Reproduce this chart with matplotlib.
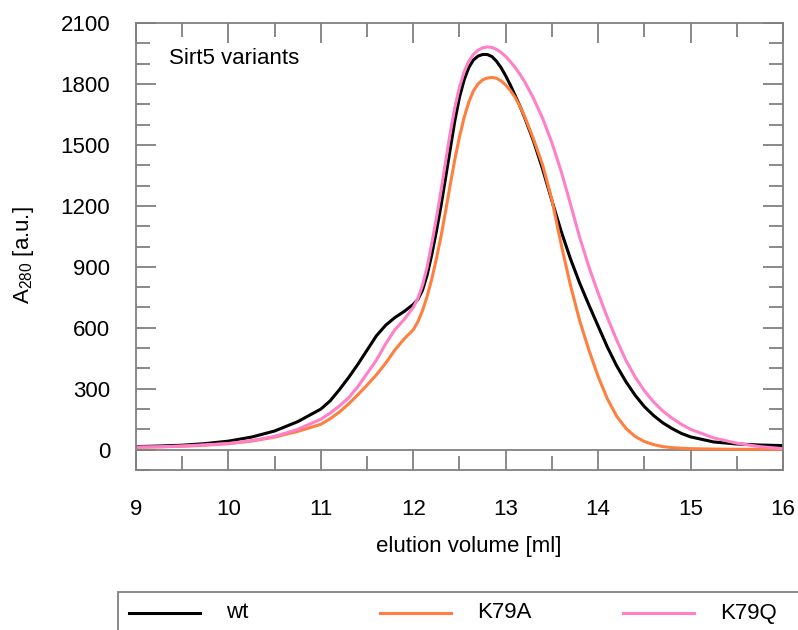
import matplotlib
matplotlib.use('Agg')
import matplotlib.pyplot as plt
from matplotlib.lines import Line2D
from matplotlib.patches import Rectangle
from matplotlib.ticker import MultipleLocator

plt.rcParams['font.family'] = ['Liberation Sans', 'DejaVu Sans']
plt.rcParams['mathtext.default'] = 'regular'

# elution volume [ml]
x_ml = [9.0, 9.25, 9.5, 9.75, 10.0, 10.25, 10.5, 10.75,
        11.0, 11.1, 11.2, 11.3, 11.4, 11.5, 11.6, 11.7, 11.8, 11.9,
        12.0, 12.05, 12.1, 12.15, 12.2, 12.25, 12.3, 12.35, 12.4, 12.45,
        12.5, 12.55, 12.6, 12.65, 12.7, 12.75, 12.8, 12.85, 12.9, 12.95,
        13.0, 13.05, 13.1, 13.15, 13.2,
        13.3, 13.4, 13.5, 13.6, 13.7, 13.8, 13.9, 14.0, 14.1,
        14.2, 14.3, 14.4, 14.5, 14.6, 14.7, 14.8, 14.9, 15.0,
        15.25, 15.5, 15.75, 16.0]

# A280 traces
wt = [15, 18, 22, 30, 42, 62, 92, 138,
      200, 240, 295, 355, 420, 490, 560, 612, 650, 680,
      715, 740, 785, 860, 960, 1075, 1200, 1340, 1480, 1620,
      1735, 1820, 1880, 1918, 1937, 1945, 1945, 1935, 1912, 1880,
      1840, 1795, 1745, 1695, 1640,
      1520, 1380, 1225, 1075, 940, 820, 712, 608, 505,
      413, 335, 268, 212, 168, 132, 104, 80, 63,
      38, 28, 23, 20]
k79a = [12, 14, 17, 22, 30, 42, 62, 90,
        125, 152, 185, 225, 270, 318, 368, 425, 490, 545,
        590, 630, 685, 755, 840, 940, 1050, 1175, 1305, 1430,
        1540, 1635, 1710, 1765, 1800, 1820, 1829, 1832, 1828, 1815,
        1795, 1768, 1735, 1693, 1645,
        1530, 1400, 1230, 1010, 810, 635, 490, 360, 250,
        165, 105, 65, 40, 25, 15, 10, 7, 5,
        3, 2, 2, 2]
k79q = [12, 14, 18, 24, 30, 45, 65, 100,
        150, 180, 215, 255, 310, 375, 440, 520, 590, 640,
        700, 745, 810, 900, 1015, 1140, 1275, 1420, 1560, 1685,
        1785, 1860, 1912, 1945, 1966, 1978, 1982, 1980, 1970, 1955,
        1935, 1910, 1882, 1850, 1815,
        1730, 1630, 1510, 1370, 1210, 1045, 900, 770, 650,
        540, 440, 358, 290, 235, 190, 155, 125, 100,
        58, 32, 15, 5]

labels = ['wt', 'K79A', 'K79Q']
colors = ['black', '#ff7f3f', '#ff80c8']
series = [wt, k79a, k79q]

W, H = 798, 630
fig = plt.figure(figsize=(W / 100, H / 100), dpi=100)
ax = fig.add_axes([136 / W, 1 - 470 / H, (783 - 136) / W, (470 - 23) / H])

gray = '#808080'
ax.axhline(0, color=gray, lw=1.3, zorder=1)
for y, c in zip(series, colors):
    ax.plot(x_ml, y, color=c, lw=2.2, zorder=2,
            solid_joinstyle='round', solid_capstyle='round')

ax.set_xlim(9, 16)
ax.set_ylim(-100, 2100)
ax.xaxis.set_major_locator(MultipleLocator(1))
ax.xaxis.set_minor_locator(MultipleLocator(0.5))
ax.yaxis.set_major_locator(MultipleLocator(300))
ax.yaxis.set_minor_locator(MultipleLocator(100))

for s in ax.spines.values():
    s.set_color(gray)
    s.set_linewidth(1.3)
ax.tick_params(which='both', direction='in', color=gray, width=1.3,
               top=True, right=True, labelsize=16)
ax.tick_params(which='major', length=14.5)
ax.tick_params(which='minor', length=10)
ax.tick_params(axis='x', pad=21)
ax.tick_params(axis='y', pad=18.5)

ax.set_xlabel('elution volume [ml]', fontsize=16)
ax.xaxis.set_label_coords(0.515, -0.148)
ax.set_ylabel('A$_{280}$ [a.u.]', fontsize=16)
ax.yaxis.set_label_coords(-0.155, 0.48)

ax.text(0.051, 0.945, 'Sirt5 variants', transform=ax.transAxes,
        fontsize=16, va='top', ha='left')

# legend box along the bottom, running off the page
fig.add_artist(Rectangle((118 / W, -0.1), 1, 0.1 + (630 - 592) / H,
                         transform=fig.transFigure, fill=False,
                         edgecolor=gray, lw=1.3))
y_leg = 1 - 613 / H
for lab, c, x0 in zip(labels, colors, [129, 380, 623]):
    fig.add_artist(Line2D([x0 / W, (x0 + 71) / W], [y_leg, y_leg],
                          transform=fig.transFigure, color=c, lw=2.2))
    fig.text((x0 + 97) / W, y_leg, lab, fontsize=16, va='center', ha='left')

fig.savefig('out.png', dpi=100)
